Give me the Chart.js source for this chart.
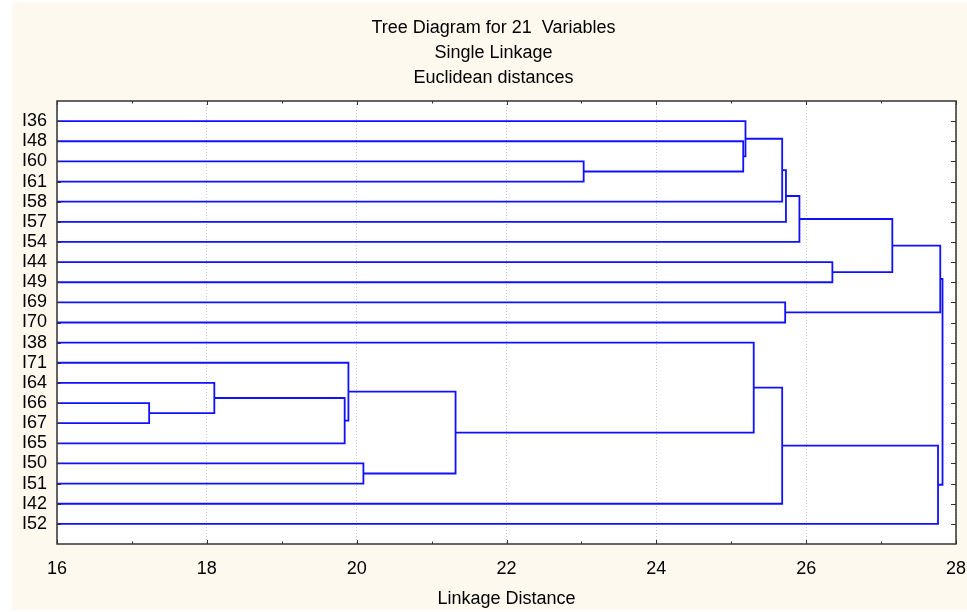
<!DOCTYPE html>
<html>
<head>
<meta charset="utf-8">
<title>Tree Diagram for 21 Variables</title>
<script src="https://cdn.jsdelivr.net/npm/chart.js@4/dist/chart.umd.min.js"></script>
<style>
  html, body { margin: 0; padding: 0; background: #fff; }
  #wrap { width: 967px; height: 612px; }
</style>
</head>
<body>
<div id="wrap"><canvas id="tree" width="967" height="612"></canvas></div>
<script>
/* ── data: leaf order and merge steps (single linkage) ──
   children < 21 are leaves, 21+ are earlier merges (21 = first merge) */
var leaves = ["I36", "I48", "I60", "I61", "I58", "I57", "I54", "I44", "I49", "I69", "I70",
              "I38", "I71", "I64", "I66", "I67", "I65", "I50", "I51", "I42", "I52"];
var mergeA = [14, 13, 22, 12, 17, 24, 2, 1, 0, 11, 29, 30, 9, 31, 34, 7, 35, 32, 37, 39];
var mergeB = [15, 21, 16, 23, 18, 25, 3, 27, 28, 26, 4, 19, 10, 5, 6, 8, 36, 20, 33, 38];
var mergeHeight = [17.23, 18.10, 19.84, 19.89, 20.09, 21.32, 23.03, 25.16, 25.19, 25.30,
                   25.68, 25.68, 25.72, 25.73, 25.91, 26.35, 27.15, 27.76, 27.79, 27.82];
var xTicks = [16, 18, 20, 22, 24, 26, 28];

var FONT = "Arial, 'Liberation Sans', sans-serif";
var LINE = "#1010ff";

/* node positions: leaves at height 0, merges at the mean of their children */
var nodeY = leaves.map(function (_, i) { return i; });
var nodeH = leaves.map(function () { return 0; });

var datasets = mergeHeight.map(function (h, k) {
  var a = mergeA[k], b = mergeB[k];
  nodeY.push((nodeY[a] + nodeY[b]) / 2);
  nodeH.push(h);
  return {
    data: [
      { x: nodeH[a], y: nodeY[a] },
      { x: h, y: nodeY[a] },
      { x: h, y: nodeY[b] },
      { x: nodeH[b], y: nodeY[b] }
    ],
    showLine: true,
    borderColor: LINE,
    borderWidth: 1.8,
    pointRadius: 0,
    fill: false,
    tension: 0
  };
});

/* cream page, white plot area; let the leaf labels use the left margin */
var backdrop = {
  id: "backdrop",
  afterLayout: function (chart) { chart.scales.y.left = 0; },
  beforeDraw: function (chart) {
    var ctx = chart.ctx, a = chart.chartArea;
    ctx.save();
    ctx.fillStyle = "#ffffff";
    ctx.fillRect(0, 0, chart.width, chart.height);
    ctx.fillStyle = "#fdf9ee";
    ctx.fillRect(12, 3, chart.width - 12, chart.height - 5);
    ctx.fillStyle = "#ffffff";
    ctx.fillRect(a.left, a.top, a.right - a.left, a.bottom - a.top);
    ctx.restore();
  }
};

/* frame with inward tick marks on all four sides */
var frame = {
  id: "frame",
  afterDraw: function (chart) {
    var ctx = chart.ctx, a = chart.chartArea;
    var xs = chart.scales.x, ys = chart.scales.y;
    ctx.save();
    ctx.strokeStyle = "#333333";
    ctx.lineWidth = 1.5;
    ctx.strokeRect(a.left, a.top, a.right - a.left, a.bottom - a.top);
    ctx.lineWidth = 1;
    ctx.beginPath();
    for (var v = xs.min; v <= xs.max; v++) {
      var px = Math.round(xs.getPixelForValue(v)) + 0.5;
      var len = (v % 2 === 0) ? 4 : 2.5;
      ctx.moveTo(px, a.top); ctx.lineTo(px, a.top + len);
      ctx.moveTo(px, a.bottom); ctx.lineTo(px, a.bottom - len);
    }
    leaves.forEach(function (_, i) {
      var py = Math.round(ys.getPixelForValue(i)) + 0.5;
      ctx.moveTo(a.left, py); ctx.lineTo(a.left + 4, py);
      ctx.moveTo(a.right, py); ctx.lineTo(a.right - 5, py);
    });
    ctx.stroke();
    ctx.restore();
  }
};

new Chart(document.getElementById("tree"), {
  type: "scatter",
  data: { datasets: datasets },
  plugins: [backdrop, frame],
  options: {
    responsive: false,
    animation: false,
    devicePixelRatio: 1,
    layout: { padding: { left: 31, right: 11, top: 0, bottom: 0 } },
    plugins: {
      legend: { display: false },
      tooltip: { enabled: false },
      title: {
        display: true,
        text: ["Tree Diagram for 21  Variables", "Single Linkage", "Euclidean distances"],
        color: "#000",
        font: { family: FONT, size: 18, weight: "normal", lineHeight: 25 / 18 },
        padding: { top: 16, bottom: 10 }
      }
    },
    scales: {
      x: {
        type: "linear",
        min: 16,
        max: 28,
        afterFit: function (s) { s.height = 68; s.paddingLeft = 0; s.paddingRight = 0; },
        afterBuildTicks: function (s) { s.ticks = xTicks.map(function (v) { return { value: v }; }); },
        grid: { color: "#c8c8c8", lineWidth: 1, drawTicks: false },
        border: { display: false, dash: [1, 2] },
        ticks: { color: "#000", font: { family: FONT, size: 18 }, padding: 14, maxRotation: 0 },
        title: {
          display: true,
          text: "Linkage Distance",
          color: "#000",
          font: { family: FONT, size: 18 },
          padding: { top: 0, bottom: 2 }
        }
      },
      y: {
        type: "linear",
        reverse: true,
        min: -1,
        max: leaves.length,
        afterFit: function (s) { s.width = 26; s.paddingTop = 0; s.paddingBottom = 0; },
        afterBuildTicks: function (s) { s.ticks = leaves.map(function (_, i) { return { value: i }; }); },
        grid: { display: false, drawTicks: false },
        border: { display: false },
        ticks: {
          autoSkip: false,
          color: "#000",
          font: { family: FONT, size: 18 },
          padding: 10,
          callback: function (v) { return leaves[v]; }
        }
      }
    }
  }
});
</script>
</body>
</html>
